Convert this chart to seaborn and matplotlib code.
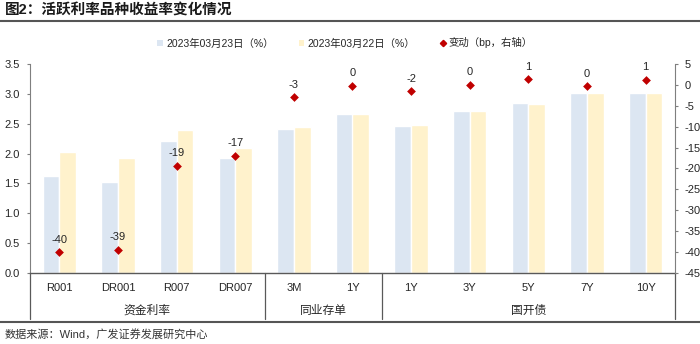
import numpy as np
import pandas as pd
import matplotlib
matplotlib.use("Agg")
import matplotlib.pyplot as plt
import matplotlib.transforms as mtransforms
from matplotlib.lines import Line2D
from matplotlib.patches import Patch
import seaborn as sns

# ---------------- data ----------------
categories = ["R001", "DR001", "R007", "DR007", "CD_3M", "CD_1Y",
              "CDB_1Y", "CDB_3Y", "CDB_5Y", "CDB_7Y", "CDB_10Y"]
tick_labels = ["R001", "DR001", "R007", "DR007", "3M", "1Y",
               "1Y", "3Y", "5Y", "7Y", "10Y"]
groups = ["资金利率", "同业存单", "国开债"]
group_sizes = [4, 2, 5]
yield_0323 = [1.63, 1.53, 2.21, 1.92, 2.41, 2.665, 2.46, 2.71, 2.84, 3.015, 3.02]
yield_0322 = [2.03, 1.92, 2.40, 2.09, 2.44, 2.6675, 2.475, 2.71, 2.827, 3.018, 3.008]
change_bp = [-40.0, -39.4, -19.3, -16.9, -3.0, -0.25, -1.55, 0.06, 1.3, -0.3, 1.2]
series_names = ["2023年03月23日（%）", "2023年03月22日（%）", "变动（bp，右轴）"]

BLUE = "#DCE6F2"
YELLOW = "#FFF2CC"
RED = "#C00000"
GRAY = "#7F7F7F"
TEXT = "#262626"

sns.set_style("white")
plt.rcParams["font.family"] = ["Liberation Sans", "Noto Sans CJK SC"]
plt.rcParams["axes.unicode_minus"] = False

df = pd.DataFrame({
    "category": categories * 2,
    "yield": yield_0323 + yield_0322,
    "series": [series_names[0]] * len(categories) + [series_names[1]] * len(categories),
})

W, H = 700, 344
fig = plt.figure(figsize=(W / 100, H / 100), dpi=100)
ax = fig.add_axes([30 / W, 1 - 273 / H, 645 / W, 209 / H])

sns.barplot(data=df, x="category", y="yield", hue="series", order=categories,
            hue_order=series_names[:2], palette=[BLUE, YELLOW], saturation=1,
            width=0.57, ax=ax, legend=False, errorbar=None)

ax2 = ax.twinx()
pos = np.arange(len(categories))
sns.scatterplot(x=pos, y=change_bp, ax=ax2, marker="D", color=RED, s=20,
                linewidth=0, legend=False, zorder=5)
for x, v in zip(pos, change_bp):
    ax2.annotate(f"{int(round(v))}", (x, v), xytext=(0, 9), textcoords="offset points",
                 ha="center", va="center", fontsize=8, color=TEXT)

ax.set_xlim(-0.5, len(categories) - 0.5)
ax.set_ylim(0, 3.5)
ax2.set_ylim(-45, 5)
ax.set_yticks(np.arange(0, 3.51, 0.5))
ax.set_yticklabels([f"{t:.1f}" for t in np.arange(0, 3.51, 0.5)])
ax2.set_yticks(np.arange(-45, 6, 5))
ax.set_xticks(pos)
ax.set_xticklabels(tick_labels)
ax.set_xlabel("")
ax.set_ylabel("")
ax2.set_ylabel("")

ax.tick_params(axis="x", length=0, pad=7, labelsize=8, labelcolor=TEXT)
ax.tick_params(axis="y", length=2.5, width=0.8, color=GRAY, pad=5, labelsize=8, labelcolor=TEXT)
ax2.tick_params(axis="y", length=2.5, width=0.8, color=GRAY, pad=4.5, labelsize=8, labelcolor=TEXT)

for s in ["top", "right"]:
    ax.spines[s].set_visible(False)
for s in ["top", "left", "bottom"]:
    ax2.spines[s].set_visible(False)
ax.spines["left"].set_color(GRAY)
ax.spines["left"].set_linewidth(0.8)
ax.spines["bottom"].set_color("#595959")
ax.spines["bottom"].set_linewidth(1.0)
ax2.spines["right"].set_color(GRAY)
ax2.spines["right"].set_linewidth(0.8)

# group separators and labels below the axis
trans = mtransforms.blended_transform_factory(ax.transData, ax.transAxes)
bounds = np.concatenate([[0], np.cumsum(group_sizes)]) - 0.5
for b in bounds:
    ax.plot([b, b], [0, -0.22], transform=trans, clip_on=False, color="#595959", lw=0.9)
for g, lo, hi in zip(groups, bounds[:-1], bounds[1:]):
    ax.text((lo + hi) / 2, -0.18, g, transform=trans, ha="center", va="center",
            fontsize=8.5, color=TEXT, family=["Noto Sans CJK SC"])

# legend
handles = [Patch(facecolor=BLUE, edgecolor="none"),
           Patch(facecolor=YELLOW, edgecolor="none"),
           Line2D([], [], marker="D", color=RED, ls="", markersize=3.2)]
fig.legend(handles, series_names, loc="center", bbox_to_anchor=(0.493, 1 - 43 / H),
           ncol=3, frameon=False, handlelength=0.55, handleheight=0.55,
           handletextpad=0.3, columnspacing=2.4, fontsize=7.5, labelcolor=TEXT)

# title, rules, source
fig.text(5 / W, 1 - 11 / H, "图2：活跃利率品种收益率变化情况", fontsize=10.5,
         weight="bold", va="center", color="#1a1a1a")
fig.add_artist(Line2D([0, 1], [1 - 21 / H] * 2, color="#555555", lw=1.5,
                      transform=fig.transFigure))
fig.add_artist(Line2D([0, 1], [1 - 321.5 / H] * 2, color="#555555", lw=1.5,
                      transform=fig.transFigure))
fig.text(5 / W, 1 - 334 / H, "数据来源：Wind，广发证券发展研究中心", fontsize=8,
         va="center", color="#333333")

fig.savefig("out.png", dpi=100)
